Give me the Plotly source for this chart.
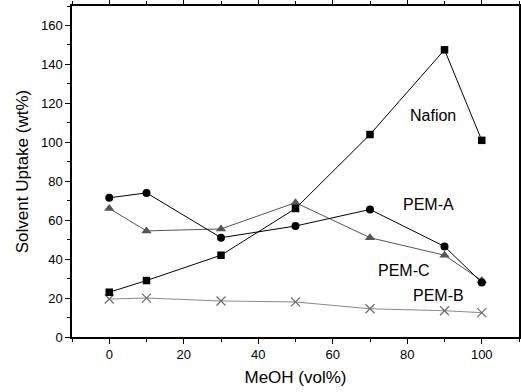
import plotly.graph_objects as go

meoh = [0, 10, 30, 50, 70, 90, 100]
nafion = [23, 29, 42, 66, 104, 147.5, 101]
pem_a = [71.5, 74, 51, 57, 65.5, 46.5, 28]
pem_c = [66, 54.5, 55.5, 69, 51, 42, 29]
pem_b = [19.5, 20, 18.5, 18, 14.5, 13.5, 12.5]

labels = ["Nafion", "PEM-A", "PEM-C", "PEM-B"]
label_x = [87, 85.7, 79.1, 88.3]
label_y = [113.6, 67.9, 34.4, 21.1]

FONT = "Liberation Sans, Arial, sans-serif"

fig = go.Figure()
fig.add_trace(go.Scatter(x=meoh, y=pem_b, mode="lines+markers",
    line=dict(color="#8a8a8a", width=1),
    marker=dict(symbol="x-thin", size=9, line=dict(color="#6a6a6a", width=1.2))))
fig.add_trace(go.Scatter(x=meoh, y=pem_c, mode="lines+markers",
    line=dict(color="#555555", width=1),
    marker=dict(symbol="triangle-up", size=9, color="#555555")))
fig.add_trace(go.Scatter(x=meoh, y=pem_a, mode="lines+markers",
    line=dict(color="black", width=1),
    marker=dict(symbol="circle", size=8, color="black")))
fig.add_trace(go.Scatter(x=meoh, y=nafion, mode="lines+markers",
    line=dict(color="black", width=1),
    marker=dict(symbol="square", size=7.5, color="black")))

for t, xx, yy in zip(labels, label_x, label_y):
    fig.add_annotation(x=xx, y=yy, text=t, showarrow=False,
                       font=dict(family=FONT, size=16, color="black"))

axis_common = dict(showline=True, linecolor="black", linewidth=1.5, mirror="ticks",
                   ticks="outside", ticklen=5, tickwidth=1, tickcolor="black",
                   showgrid=False, zeroline=False,
                   tickfont=dict(family=FONT, size=13, color="black"))
fig.update_xaxes(range=[-10, 110], dtick=20, tick0=0,
                 minor=dict(ticks="outside", ticklen=3, dtick=10, tick0=0, tickcolor="black"),
                 title=dict(text="MeOH (vol%)", font=dict(family=FONT, size=17, color="black"), standoff=10),
                 **axis_common)
fig.update_yaxes(range=[0, 170], dtick=20, tick0=0,
                 minor=dict(ticks="outside", ticklen=3, dtick=10, tick0=0, tickcolor="black"),
                 title=dict(text="Solvent Uptake (wt%)", font=dict(family=FONT, size=17, color="black"), standoff=8),
                 **axis_common)
fig.update_layout(width=521, height=392, showlegend=False,
                  margin=dict(l=72, r=2, t=6, b=55, autoexpand=False),
                  plot_bgcolor="white", paper_bgcolor="white")
fig.write_html("out.html", config={"displayModeBar": False},
               post_script="document.body.style.margin='0';")
